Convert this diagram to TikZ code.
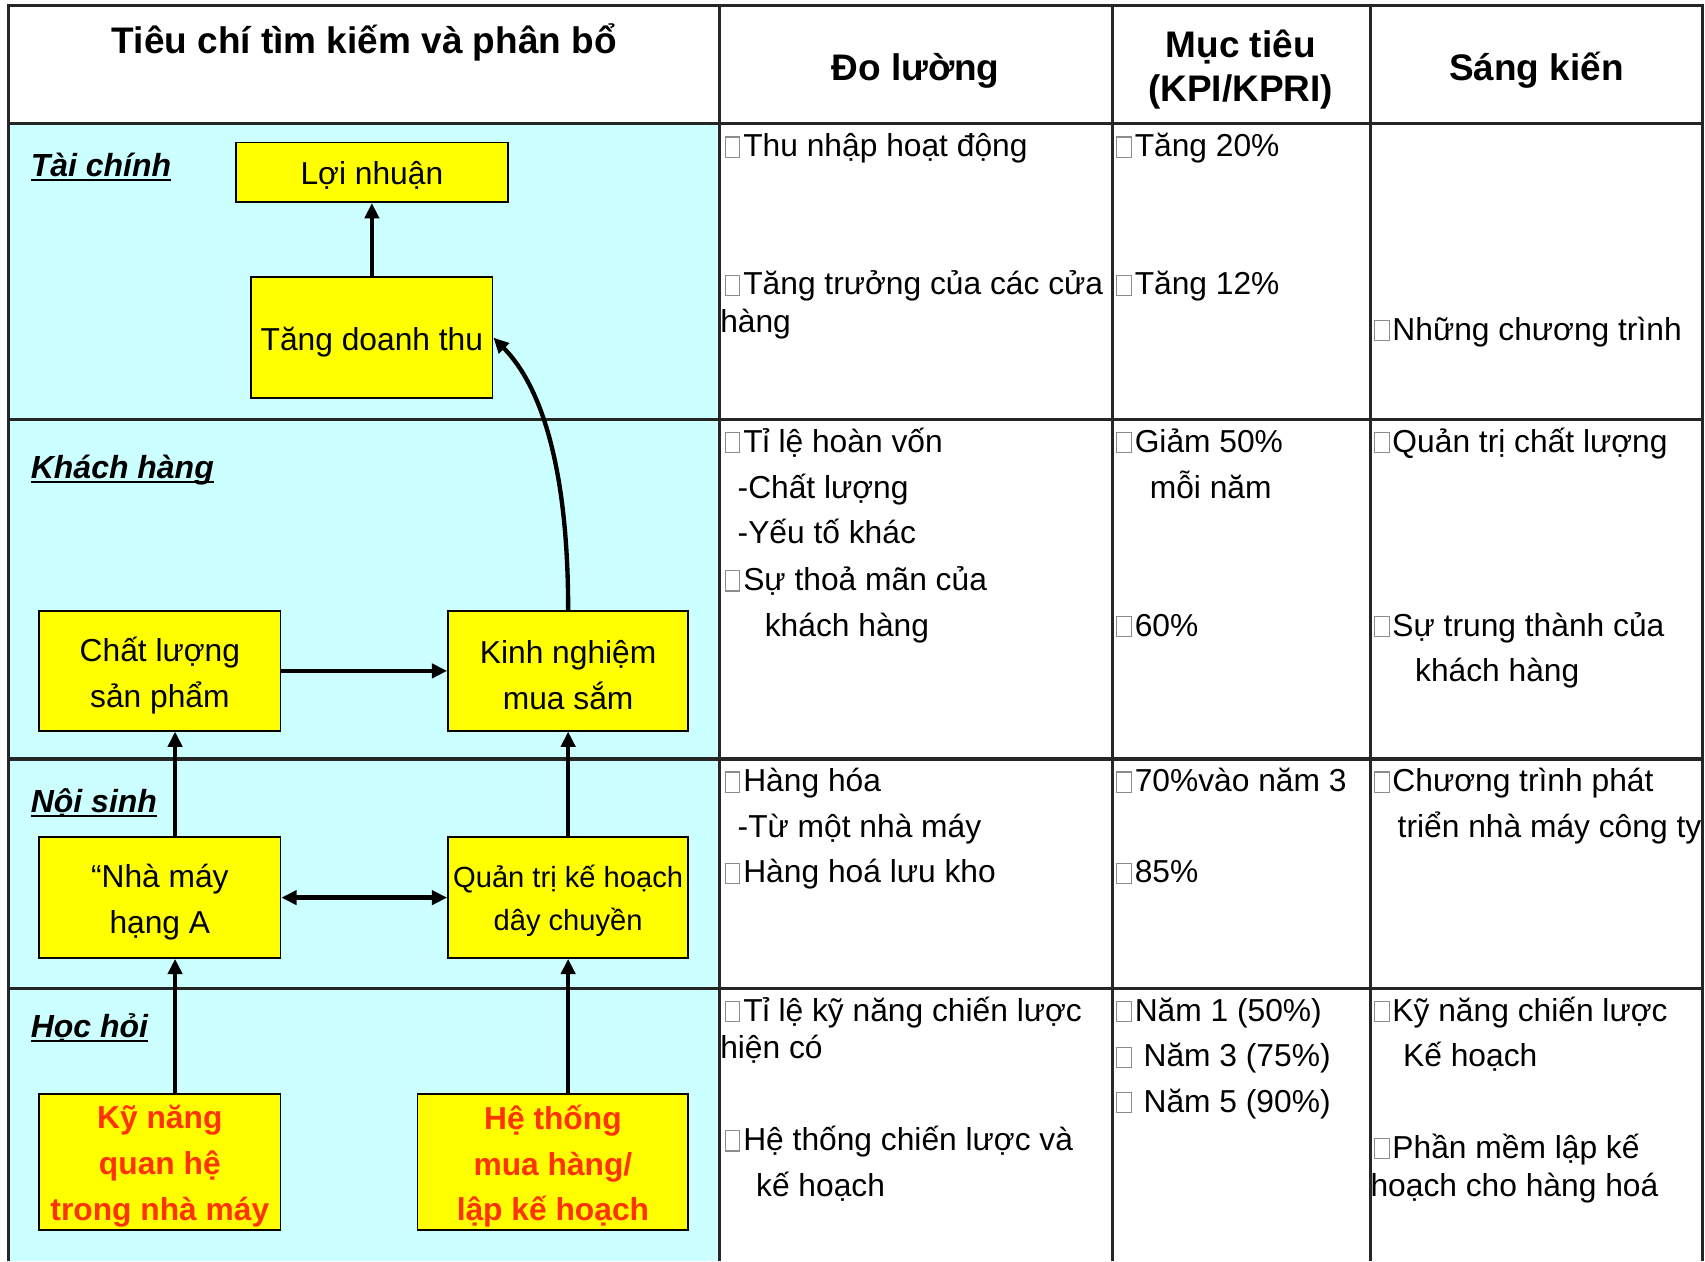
\documentclass[tikz,border=0pt]{standalone}
\usepackage{fontspec}
\setmainfont{Liberation Sans}
\usetikzlibrary{arrows.meta}
\definecolor{pale}{HTML}{CCFFFF}
\definecolor{boxyellow}{HTML}{FFFF00}
\definecolor{hot}{HTML}{FF3300}
% empty square bullet
\newcommand\gb{{\color{black!45}\setlength\fboxsep{0pt}\setlength\fboxrule{0.5pt}\fbox{\rule{0pt}{0.6em}\hspace{0.43em}}}\kern0.09em}
% underline that runs close to the baseline
\newsavebox\ulbox
\newcommand\ulin[1]{\sbox\ulbox{#1}\rlap{\rule[-2.2pt]{\wd\ulbox}{0.9pt}}\usebox\ulbox}
\begin{document}
\begin{tikzpicture}[x=0.5pt,y=-0.5pt,
  body/.style={font=\fontsize{14.6}{21}\selectfont},
  tx/.style={body,anchor=base west,inner sep=0pt},
  hd/.style={font=\fontsize{17}{22}\selectfont\bfseries,anchor=base,inner sep=0pt},
  lab/.style={font=\fontsize{14.7}{21}\selectfont\bfseries\itshape,anchor=base west,inner sep=0pt},
  grid/.style={line width=1.4pt,draw=black!85},
  box/.style={draw=black,line width=0.8pt,fill=boxyellow,inner sep=0pt},
  btext/.style={align=center,inner sep=0pt,body},
  hottext/.style={btext,font=\fontsize{14.6}{21}\selectfont\bfseries,text=hot},
  arr/.style={line width=2pt,-{Triangle[length=7pt,width=6.5pt]}},
  dbl/.style={line width=2pt,{Triangle[length=7pt,width=6.5pt]}-{Triangle[length=7pt,width=6.5pt]}}]
\useasboundingbox (0,0) rectangle (1568,1160);
\fill[white] (0,0) rectangle (1568,1160);
\fill[pale] (8,114) rectangle (662,1160);

% table rules
\draw[grid] (8,1160) -- (8,5) -- (1566,5) -- (1566,1160);
\foreach \cx in {662,1023,1260} \draw[grid] (\cx,5) -- (\cx,1160);
\foreach \ry in {114,386,698,909} \draw[grid] (8,\ry) -- (1566,\ry);

% headers
\node[hd] (h1) at (335,49) {Tiêu chí tìm kiếm và phân bổ};
\node[hd] (h2) at (842,74) {Đo lường};
\node[hd] (h3) at (1141,53) {Mục tiêu};
\node[hd] (h4) at (1141,93) {(KPI/KPRI)};
\node[hd] (h5) at (1413,74) {Sáng kiến};

% perspective labels
\node[lab] (l1) at (28,162) {\ulin{Tài chính}};
\node[lab] (l2) at (28,440) {\ulin{Khách hàng}};
\node[lab] (l3) at (28,747) {\ulin{Nội sinh}};
\node[lab] (l4) at (28,954) {\ulin{Học hỏi}};

% strategy map boxes
\node[box,minimum width=125pt,minimum height=27.5pt] (ln) at (342,158.5) {};
\node[box,minimum width=111pt,minimum height=55.5pt] (tdt) at (342,310.5) {};
\node[box,minimum width=111pt,minimum height=55pt] (cl) at (147,617) {};
\node[box,minimum width=110.5pt,minimum height=55pt] (kn) at (522.5,617) {};
\node[box,minimum width=111pt,minimum height=55.5pt] (nm) at (147,825.5) {};
\node[box,minimum width=110.5pt,minimum height=55.5pt] (qt) at (522.5,825.5) {};
\node[box,minimum width=111pt,minimum height=62.5pt] (kyn) at (147,1068.5) {};
\node[box,minimum width=124.5pt,minimum height=62.5pt] (ht) at (508.5,1068.5) {};

% box captions
\node[btext] (ln-t) at ([yshift=-1.5pt]ln.center) {Lợi nhuận};
\node[btext] (tdt-t) at ([yshift=-2pt]tdt.center) {Tăng doanh thu};
\node[btext] (cl-t) at ([yshift=-2pt]cl.center) {Chất lượng\\sản phẩm};
\node[btext] (kn-t) at ([yshift=-2pt]kn.center) {Kinh nghiệm\\mua sắm};
\node[btext] (nm-t) at ([yshift=-2pt]nm.center) {“Nhà máy\\hạng A};
\node[btext,font=\fontsize{13.4}{20}\selectfont] (qt-t) at ([yshift=-1.5pt]qt.center) {Quản trị kế hoạch\\dây chuyền};
\node[hottext] (kyn-t) at ([yshift=-2pt]kyn.center) {Kỹ năng\\quan hệ\\trong nhà máy};
\node[hottext] (ht-t) at ([yshift=-2pt]ht.center) {Hệ thống\\mua hàng/\\lập kế hoạch};

% connectors
\coordinate (xa) at (161,0);
\coordinate (xb) at (522.5,0);
\draw[arr] (tdt.north) -- (ln.south);
\draw[arr] (kn.north) .. controls +(0,-131) and +(44,44.5) .. (tdt.east);
\draw[arr] (cl.east) -- (kn.west);
\draw[arr] (nm.north -| xa) -- (cl.south -| xa);
\draw[arr] (qt.north) -- (kn.south);
\draw[dbl] (nm.east) -- (qt.west);
\draw[arr] (kyn.north -| xa) -- (nm.south -| xa);
\draw[arr] (ht.north -| xb) -- (qt.south -| xb);

% measures
\node[tx] (c2a) at (666,144) {\gb Thu nhập hoạt động};
\node[tx] (c2b) at (666,271) {\gb Tăng trưởng của các cửa};
\node[tx] (c2c) at (662,306) {hàng};
\node[tx] (c2d) at (666,416) {\gb Tỉ lệ hoàn vốn};
\node[tx] (c2e) at (678,458) {-Chất lượng};
\node[tx] (c2f) at (678,500) {-Yếu tố khác};
\node[tx] (c2g) at (666,543) {\gb Sự thoả mãn của};
\node[tx] (c2h) at (703,585) {khách hàng};
\node[tx] (c2i) at (666,728) {\gb Hàng hóa};
\node[tx] (c2j) at (678,770) {-Từ một nhà máy};
\node[tx] (c2k) at (666,812) {\gb Hàng hoá lưu kho};
\node[tx] (c2l) at (666,939) {\gb Tỉ lệ kỹ năng chiến lược};
\node[tx] (c2m) at (662,973) {hiện có};
\node[tx] (c2n) at (666,1058) {\gb Hệ thống chiến lược và};
\node[tx] (c2o) at (695,1100) {kế hoạch};

% targets
\node[tx] (c3a) at (1026,144) {\gb Tăng 20\%};
\node[tx] (c3b) at (1026,271) {\gb Tăng 12\%};
\node[tx] (c3c) at (1026,416) {\gb Giảm 50\%};
\node[tx] (c3d) at (1057,458) {mỗi năm};
\node[tx] (c3e) at (1026,585) {\gb 60\%};
\node[tx] (c3f) at (1026,728) {\gb 70\%vào năm 3};
\node[tx] (c3g) at (1026,812) {\gb 85\%};
\node[tx] (c3h) at (1026,939) {\gb Năm 1 (50\%)};
\node[tx] (c3i) at (1026,981) {\gb\ Năm 3 (75\%)};
\node[tx] (c3j) at (1026,1023) {\gb\ Năm 5 (90\%)};

% initiatives
\node[tx] (c4a) at (1263,313) {\gb Những chương trình};
\node[tx] (c4b) at (1263,416) {\gb Quản trị chất lượng};
\node[tx] (c4c) at (1263,585) {\gb Sự trung thành của};
\node[tx] (c4d) at (1301,627) {khách hàng};
\node[tx] (c4e) at (1263,728) {\gb Chương trình phát};
\node[tx] (c4f) at (1285,770) {triển nhà máy công ty};
\node[tx] (c4g) at (1263,939) {\gb Kỹ năng chiến lược};
\node[tx] (c4h) at (1290,981) {Kế hoạch};
\node[tx] (c4i) at (1263,1065) {\gb Phần mềm lập kế};
\node[tx] (c4j) at (1260,1100) {hoạch cho hàng hoá};
\end{tikzpicture}
\end{document}
